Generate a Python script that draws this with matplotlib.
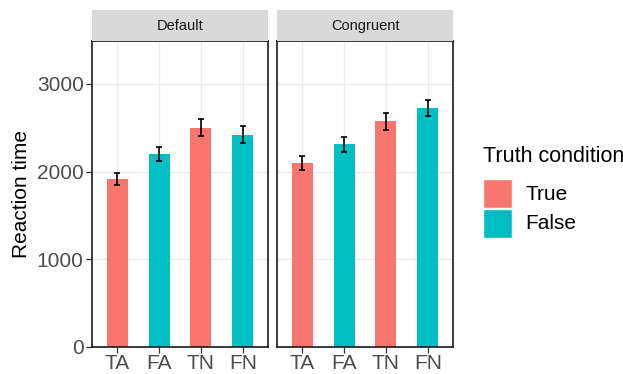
import numpy as np
import matplotlib.pyplot as plt

# bar heights and error bars
cats = ['TA', 'FA', 'TN', 'FN']
panels = ['Default', 'Congruent']
rt_default = [1915, 2200, 2503, 2420]
se_default = [72, 82, 93, 95]
rt_congruent = [2097, 2313, 2572, 2724]
se_congruent = [83, 87, 95, 93]
truth = ['True', 'False', 'True', 'False']

colors = {'True': '#F8766D', 'False': '#00BFC4'}
plt.rcParams['font.family'] = ['Liberation Sans', 'DejaVu Sans']

fig = plt.figure(figsize=(6.23, 3.74), dpi=100)
W, H = 623, 374

def px_axes(x0, y0, x1, y1):
    return fig.add_axes([x0 / W, 1 - y1 / H, (x1 - x0) / W, (y1 - y0) / H])

data = [(rt_default, se_default), (rt_congruent, se_congruent)]
lefts = [92, 277]
for k, (name, (vals, errs)) in enumerate(zip(panels, data)):
    x0 = lefts[k]
    x1 = x0 + 176
    ax = px_axes(x0, 41, x1, 347)
    xs = np.arange(1, len(cats) + 1)
    ax.bar(xs, vals, width=0.5, color=[colors[t] for t in truth], zorder=2)
    ax.errorbar(xs, vals, yerr=errs, fmt='none', ecolor='black',
                elinewidth=1.2, capsize=2, capthick=1.2, zorder=3)
    ax.set_xlim(0.4, 4.6)
    ax.set_ylim(0, 3490)
    ax.set_xticks(xs)
    ax.set_xticklabels(cats)
    ax.set_yticks([0, 1000, 2000, 3000])
    ax.grid(True, color='#EBEBEB', linewidth=0.9, zorder=0)
    ax.set_axisbelow(True)
    for sp in ax.spines.values():
        sp.set_color('#1A1A1A')
        sp.set_linewidth(1.2)
    ax.tick_params(axis='both', colors='#333333', labelcolor='#4D4D4D',
                   labelsize=15, length=4, width=0.9)
    ax.tick_params(axis='x', pad=1)
    ax.tick_params(axis='y', pad=2)
    if k == 0:
        ax.set_ylabel('Reaction time', fontsize=15, color='black', labelpad=4)
    else:
        ax.tick_params(axis='y', labelleft=False, length=0)

    # facet strip
    sx = px_axes(x0, 10, x1, 41)
    sx.set_xticks([])
    sx.set_yticks([])
    sx.set_facecolor('#D9D9D9')
    for sp in sx.spines.values():
        sp.set_visible(False)
    sx.text(0.5, 0.47, name, ha='center', va='center', fontsize=10.5,
            color='#1A1A1A', transform=sx.transAxes)

# legend
fig.text(483 / W, 1 - 157 / H, 'Truth condition', fontsize=15.5,
         ha='left', va='center')
for i, lab in enumerate(['True', 'False']):
    top = 179 + i * 30
    fig.patches.append(plt.Rectangle((483 / W, 1 - (top + 29) / H), 29 / W, 29 / H,
                                     transform=fig.transFigure,
                                     facecolor=colors[lab], edgecolor='white',
                                     linewidth=1))
    fig.text(525 / W, 1 - (top + 15) / H, lab, fontsize=15, ha='left',
             va='center')

fig.savefig('out.png', dpi=100)
